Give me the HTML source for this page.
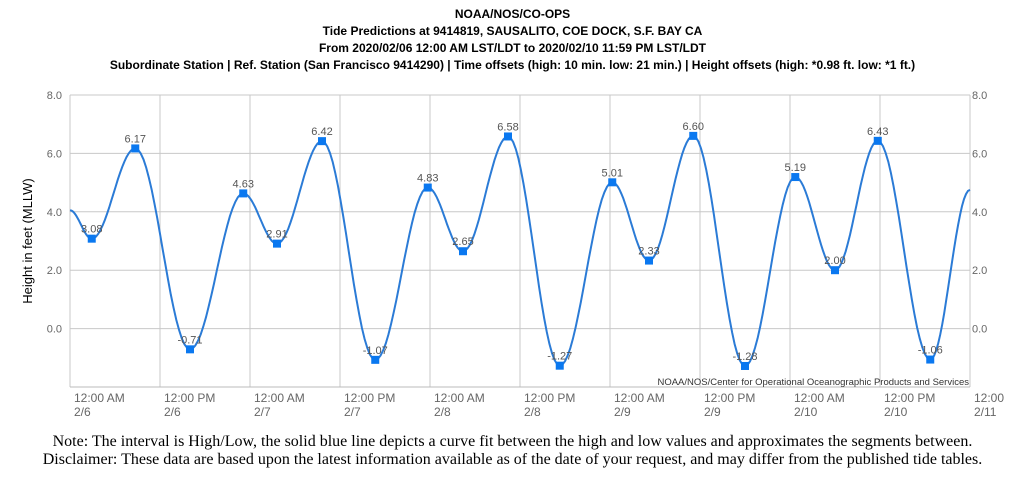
<!DOCTYPE html>
<html><head><meta charset="utf-8"><style>
body{margin:0;background:#fff;width:1025px;height:479px;overflow:hidden;font-family:"Liberation Sans",Arial,sans-serif}
.t{position:absolute;left:0;width:1025px;text-align:center;font-weight:bold;font-size:12px;color:#000}
.note{position:absolute;left:0;width:1025px;text-align:center;font-family:"Liberation Serif",serif;font-size:16px;line-height:18px;color:#000}
</style></head><body>
<div class="t" style="top:7px">NOAA/NOS/CO-OPS</div>
<div class="t" style="top:24px">Tide Predictions at 9414819, SAUSALITO, COE DOCK, S.F. BAY CA</div>
<div class="t" style="top:41px">From 2020/02/06 12:00 AM LST/LDT to 2020/02/10 11:59 PM LST/LDT</div>
<div class="t" style="top:58px">Subordinate Station | Ref. Station (San Francisco 9414290) | Time offsets (high: 10 min. low: 21 min.) | Height offsets (high: *0.98 ft. low: *1 ft.)</div>
<svg id="chart" width="1025" height="479" style="position:absolute;left:0;top:0"></svg>
<div class="note" style="top:433px">Note: The interval is High/Low, the solid blue line depicts a curve fit between the high and low values and approximates the segments between.<br>Disclaimer: These data are based upon the latest information available as of the date of your request, and may differ from the published tide tables.</div>
<script>
const hours=[2.9,8.7,16,23.1,27.6,33.6,40.7,47.7,52.4,58.4,65.3,72.3,77.2,83.1,90,96.7,102,107.7,114.7];
const heights=[3.08,6.17,-0.71,4.63,2.91,6.42,-1.07,4.83,2.65,6.58,-1.27,5.01,2.33,6.60,-1.28,5.19,2.00,6.43,-1.06];
const startVal=4.05, endVal=4.75;
const yTicks=[8,6,4,2,0];
const xTickTimes=["12:00 AM","12:00 PM","12:00 AM","12:00 PM","12:00 AM","12:00 PM","12:00 AM","12:00 PM","12:00 AM","12:00 PM","12:00"];
const xTickDates=["2/6","2/6","2/7","2/7","2/8","2/8","2/9","2/9","2/10","2/10","2/11"];
const L=70,R=970,T=95,B=387,ymin=-2,ymax=8,hmax=120;
const X=h=>L+(R-L)*h/hmax, Y=v=>B-(B-T)*(v-ymin)/(ymax-ymin);
const svg=document.getElementById('chart');const NS='http://www.w3.org/2000/svg';
function mk(tag,a,txt){const e=document.createElementNS(NS,tag);for(const k in a)e.setAttribute(k,a[k]);if(txt!=null)e.textContent=txt;svg.appendChild(e);return e;}
yTicks.forEach(v=>{
 const g=mk('line',{x1:L,x2:R,y1:Y(v),y2:Y(v),stroke:'#c8c8c8','stroke-width':1});
 
 
 const a=mk('text',{x:L-8,y:Y(v)+4,'text-anchor':'end','font-size':11,fill:'#666','font-family':'Liberation Sans, sans-serif'},v.toFixed(1));
 
 
 const b=mk('text',{x:R+2,y:Y(v)+4,'font-size':11,fill:'#666','font-family':'Liberation Sans, sans-serif'},v.toFixed(1));
 
 
});
xTickTimes.forEach((t,i)=>{
 const x=X(i*12);
 const g=mk('line',{x1:x,x2:x,y1:T,y2:B,stroke:'#c8c8c8','stroke-width':1});
 
 
 const a=mk('text',{x:x+4,y:B+15,'font-size':12,fill:'#666','font-family':'Liberation Sans, sans-serif'},t);
 
 
 const b=mk('text',{x:x+4,y:B+29,'font-size':12,fill:'#666','font-family':'Liberation Sans, sans-serif'},xTickDates[i]);
 
 
});
const ax=mk('line',{x1:L,x2:R,y1:B,y2:B,stroke:'#bbb'});


const yt=mk('text',{transform:`translate(32,${(T+B)/2}) rotate(-90)`,'text-anchor':'middle','font-size':13,fill:'#000','font-family':'Liberation Sans, sans-serif'},'Height in feet (MLLW)');


const cr=mk('text',{x:R-1,y:B-2,'text-anchor':'end','font-size':9.5,fill:'#333','font-family':'Liberation Sans, sans-serif'},'NOAA/NOS/Center for Operational Oceanographic Products and Services');


const ph=[0,...hours,hmax], pv=[startVal,...heights,endVal];
let d='';
for(let i=0;i<ph.length-1;i++){
 for(let s=0;s<=20;s++){const t=s/20;const h=ph[i]+(ph[i+1]-ph[i])*t;const v=pv[i]+(pv[i+1]-pv[i])*(1-Math.cos(Math.PI*t))/2;
  d+=(d?'L':'M')+X(h).toFixed(1)+','+Y(v).toFixed(1);}
}
const line=mk('path',{d:d,fill:'none',stroke:'#2b7bd6','stroke-width':2});


hours.forEach((h,i)=>{
 const m=mk('rect',{x:X(h)-4,y:Y(heights[i])-4,width:8,height:8,fill:'#0a78f0'});
 
 
 const lb=mk('text',{x:X(h),y:Y(heights[i])-6,'text-anchor':'middle','font-size':11,fill:'#555','font-family':'Liberation Sans, sans-serif'},heights[i].toFixed(2));
 
 
});
</script>
</body></html>
